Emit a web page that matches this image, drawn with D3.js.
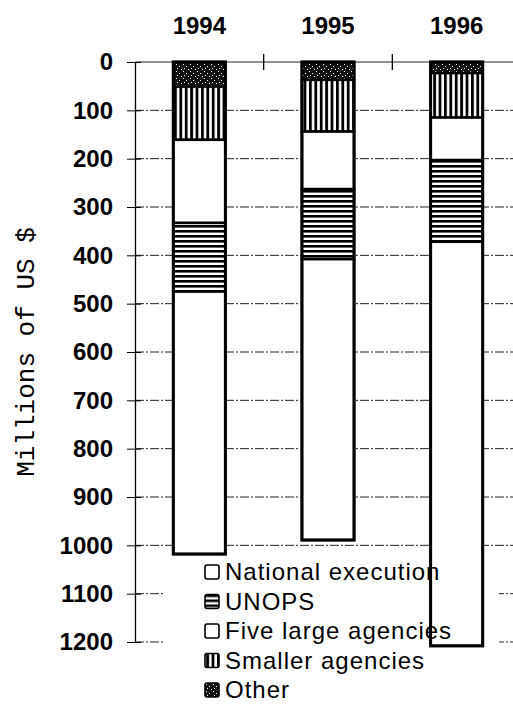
<!DOCTYPE html>
<html>
<head>
<meta charset="utf-8">
<script src="https://cdn.jsdelivr.net/npm/d3@7"></script>
<style>
  body { margin: 0; background: #fff; }
  svg { display: block; }
</style>
</head>
<body>
<svg id="chart" width="513" height="705"></svg>
<script>
// values (millions of US $)
const years = ["1994", "1995", "1996"];
const national = [543, 581, 836];
const unops = [142, 145, 169];
const fiveLarge = [172, 119, 88];
const smaller = [110, 107, 92];
const other = [51, 37, 23];
const yTicks = [0, 100, 200, 300, 400, 500, 600, 700, 800, 900, 1000, 1100, 1200];

// stacked from the top (0) downwards
const keys = ["other", "smaller", "fiveLarge", "unops", "national"];
const legendItems = [
  {key: "national", label: "National execution"},
  {key: "unops", label: "UNOPS"},
  {key: "fiveLarge", label: "Five large agencies"},
  {key: "smaller", label: "Smaller agencies"},
  {key: "other", label: "Other"}
];

const rows = years.map((y, i) => ({
  year: y, national: national[i], unops: unops[i], fiveLarge: fiveLarge[i],
  smaller: smaller[i], other: other[i]
}));

const svg = d3.select("#chart");
const fills = {
  national: "#fff",
  fiveLarge: "#fff",
  unops: "url(#hstripe)",
  smaller: "url(#vstripe)",
  other: "url(#dots)"
};

// patterns
const defs = svg.append("defs");
const hs = defs.append("pattern").attr("id", "hstripe").attr("patternUnits", "userSpaceOnUse")
  .attr("width", 6).attr("height", 5);
hs.append("rect").attr("width", 6).attr("height", 5).attr("fill", "#fff");
hs.append("rect").attr("width", 6).attr("height", 2.6).attr("fill", "#000");

const vs = defs.append("pattern").attr("id", "vstripe").attr("patternUnits", "userSpaceOnUse")
  .attr("width", 5.4).attr("height", 6).attr("x", 174);
vs.append("rect").attr("width", 5.4).attr("height", 6).attr("fill", "#fff");
vs.append("rect").attr("width", 2.8).attr("height", 6).attr("fill", "#000");

const ds = defs.append("pattern").attr("id", "dots").attr("patternUnits", "userSpaceOnUse")
  .attr("width", 7).attr("height", 7);
ds.append("rect").attr("width", 7).attr("height", 7).attr("fill", "#111");
[[1, 1], [4, 3], [2, 5], [6, 6]].forEach(p =>
  ds.append("rect").attr("x", p[0]).attr("y", p[1]).attr("width", 1).attr("height", 1).attr("fill", "#fff"));

// scales
const y = d3.scaleLinear().domain([0, 1200]).range([62, 642]);
const x = d3.scaleBand().domain(years).range([135, 521]).paddingInner(0.595).paddingOuter(0.2975);

// gridlines
svg.append("g").selectAll("line").data(yTicks).join("line")
  .attr("x1", 135).attr("x2", 521)
  .attr("y1", d => y(d)).attr("y2", d => y(d))
  .attr("stroke", "#222").attr("stroke-width", 1)
  .attr("stroke-dasharray", d => d === 0 ? null : "9,2,2,2");

// y axis (ticks cross the line)
const yAxis = d3.axisLeft(y).tickValues(yTicks).tickFormat(d3.format("d")).tickSize(0).tickPadding(22);
const ga = svg.append("g").attr("transform", "translate(135,0)").call(yAxis);
ga.select(".domain").attr("stroke", "#000").attr("stroke-width", 1.3);
ga.selectAll(".tick line").attr("x1", -8).attr("x2", 6).attr("stroke", "#000");
ga.selectAll("text").attr("font-family", "Liberation Sans, Arial, sans-serif")
  .attr("font-size", 24).attr("font-weight", "bold").attr("fill", "#000");

// category boundary ticks on the top line
svg.append("g").selectAll("line").data(years.slice(1)).join("line")
  .attr("x1", d => x(d) - x.step() * x.paddingInner() / 2)
  .attr("x2", d => x(d) - x.step() * x.paddingInner() / 2)
  .attr("y1", y(0) - 8).attr("y2", y(0) + 8)
  .attr("stroke", "#000").attr("stroke-width", 1.3);

// year labels at the top
svg.append("g").selectAll("text").data(years).join("text")
  .attr("x", d => x(d) + x.bandwidth() / 2).attr("y", 34)
  .attr("text-anchor", "middle")
  .attr("font-family", "Liberation Sans, Arial, sans-serif").attr("font-size", 24)
  .attr("font-weight", "bold")
  .text(d => d);

// y title
svg.append("text")
  .attr("transform", "translate(34,352) rotate(-90)")
  .attr("text-anchor", "middle")
  .attr("font-family", "Liberation Mono, Courier New, monospace").attr("font-size", 26)
  .text("Millions of US $");

// legend background hides the gridlines
svg.append("rect").attr("x", 164).attr("y", 553).attr("width", 335).attr("height", 160).attr("fill", "#fff");

// bars
const stack = d3.stack().keys(keys)(rows);
svg.append("g").selectAll("g").data(stack).join("g")
  .attr("fill", d => fills[d.key])
  .selectAll("rect").data(d => d).join("rect")
  .attr("x", d => x(d.data.year))
  .attr("width", x.bandwidth())
  .attr("y", d => y(d[0]))
  .attr("height", d => y(d[1]) - y(d[0]))
  .attr("stroke", "#000").attr("stroke-width", 2.5);

// outer bar outline
svg.append("g").selectAll("rect").data(rows).join("rect")
  .attr("x", d => x(d.year)).attr("width", x.bandwidth())
  .attr("y", y(0))
  .attr("height", d => y(keys.reduce((s, k) => s + d[k], 0)) - y(0))
  .attr("fill", "none").attr("stroke", "#000").attr("stroke-width", 3);

// legend entries drawn over the bars
const legend = svg.append("g");
const li = legend.selectAll("g.item").data(legendItems).join("g")
  .attr("class", "item")
  .attr("transform", (d, i) => `translate(205,${565 + i * 29.5})`);
li.append("rect").attr("width", 14).attr("height", 14).attr("rx", 2)
  .attr("fill", d => fills[d.key]).attr("stroke", "#000").attr("stroke-width", 1.6);
li.append("text").attr("x", 20).attr("y", 15)
  .attr("font-family", "Liberation Sans, Arial, sans-serif").attr("font-size", 24)
  .attr("letter-spacing", 1)
  .text(d => d.label);
</script>
</body>
</html>
